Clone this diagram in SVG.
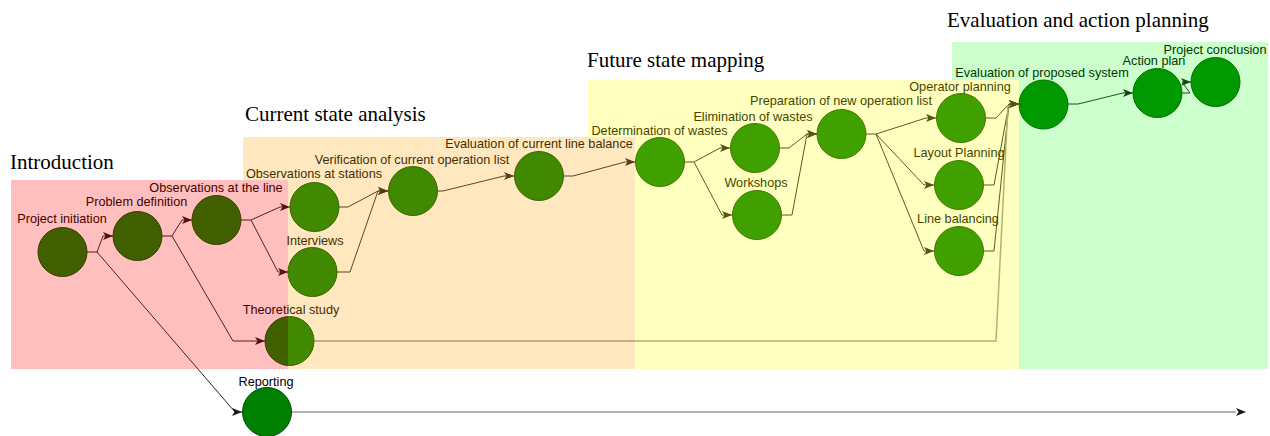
<svg xmlns="http://www.w3.org/2000/svg" width="1270" height="436" viewBox="0 0 1270 436">
<style>
.n{fill:#008000;stroke:#004d00;stroke-width:1}
.l{font-family:"Liberation Sans",Arial,sans-serif;font-size:12.7px;fill:#000;text-anchor:middle}
.t{font-family:"Liberation Serif","Times New Roman",serif;font-size:21px;fill:#000}
.c{fill:none;stroke:#262626;stroke-width:1;marker-end:url(#ah)}
.g{fill:none;stroke:#999;stroke-width:1.5}
</style>
<defs>
<marker id="ah" markerUnits="userSpaceOnUse" markerWidth="11" markerHeight="9" refX="10" refY="4" orient="auto" viewBox="0 0 11 9">
<path d="M0,0 L10,4 L0,8 L2.5,4 z" fill="#1a1a1a"/>
</marker>
</defs>
<rect width="1270" height="436" fill="#fff"/>
<g id="connectors">
<path class="c" d="M87,252 H97 L103,236 H113"/>
<path class="c" d="M97,252 L235,412 H242"/>
<path class="c" d="M162,236 H172 L182,220 H192"/>
<path class="c" d="M172,236 L233,341 H265"/>
<path class="c" d="M241,220 H251 L280,207 H290"/>
<path class="c" d="M251,220 L278,272 H288"/>
<path class="c" d="M339,207 H348 L378,191 H388"/>
<path class="c" d="M337,272 H350 L378,191 H388"/>
<path class="c" d="M438,191 H443 L504,176 H514"/>
<path class="c" d="M563,176 H573 L625,162 H635"/>
<path class="c" d="M684,162 H694 L720,148 H730"/>
<path class="c" d="M694,162 L722,215 H732"/>
<path class="c" d="M779,148 H789 L807,134 H817"/>
<path class="c" d="M782,215 H792 L807,134 H817"/>
<path class="c" d="M866,134 H876 L926,118 H936"/>
<path class="c" d="M876,134 L924,185 H934"/>
<path class="c" d="M876,134 L924,251 H934"/>
<path class="c" d="M986,118 H996 L1009,104 H1019"/>
<path class="c" d="M984,185 H994 L1009,104 H1019"/>
<path class="c" d="M984,251 H994 L1009,104 H1019"/>
<path class="g" d="M314,341 H996 L1008,105"/>
<path class="c" d="M1068,104 H1078 L1123,93 H1133"/>
<path class="c" d="M1182,93 H1190 L1182,82 H1191"/>
<path class="g" d="M292,412 H1236"/>
<path d="M1236,408 L1246,412 L1236,416 L1238.5,412 z" fill="#1a1a1a"/>
</g>
<g id="n-project-initiation"><circle class="n" cx="62.5" cy="252" r="24.5"/><text class="l" x="62" y="223">Project initiation</text></g>
<g id="n-problem-definition"><circle class="n" cx="137.5" cy="236" r="24.5"/><text class="l" x="136.5" y="206">Problem definition</text></g>
<g id="n-observations-line"><circle class="n" cx="216.5" cy="220" r="24.5"/><text class="l" x="216" y="192">Observations at the line</text></g>
<g id="n-observations-stations"><circle class="n" cx="314.5" cy="207" r="24.5"/><text class="l" x="314" y="178">Observations at stations</text></g>
<g id="n-interviews"><circle class="n" cx="312.5" cy="272" r="24.5"/><text class="l" x="315" y="245">Interviews</text></g>
<g id="n-theoretical-study"><circle class="n" cx="289.5" cy="341" r="24.5"/><text class="l" x="291" y="314">Theoretical study</text></g>
<g id="n-reporting"><circle class="n" cx="267" cy="412" r="24.5"/><text class="l" x="266" y="386">Reporting</text></g>
<g id="n-verification"><circle class="n" cx="413" cy="191" r="24.5"/><text class="l" x="412" y="164">Verification of current operation list</text></g>
<g id="n-eval-current"><circle class="n" cx="539" cy="176" r="24.5"/><text class="l" x="539" y="148">Evaluation of current line balance</text></g>
<g id="n-determination"><circle class="n" cx="660" cy="162" r="24.5"/><text class="l" x="659.5" y="135">Determination of wastes</text></g>
<g id="n-elimination"><circle class="n" cx="755" cy="148" r="24.5"/><text class="l" x="753" y="121">Elimination of wastes</text></g>
<g id="n-workshops"><circle class="n" cx="757" cy="215" r="24.5"/><text class="l" x="756" y="187">Workshops</text></g>
<g id="n-preparation"><circle class="n" cx="841.5" cy="134" r="24.5"/><text class="l" x="841" y="105">Preparation of new operation list</text></g>
<g id="n-operator"><circle class="n" cx="961" cy="118" r="24.5"/><text class="l" x="960" y="91">Operator planning</text></g>
<g id="n-layout"><circle class="n" cx="959" cy="185" r="24.5"/><text class="l" x="959" y="157">Layout Planning</text></g>
<g id="n-line-balancing"><circle class="n" cx="959" cy="251" r="24.5"/><text class="l" x="958" y="223">Line balancing</text></g>
<g id="n-eval-proposed"><circle class="n" cx="1043.5" cy="104.5" r="24.5"/><text class="l" x="1042" y="77">Evaluation of proposed system</text></g>
<g id="n-action-plan"><circle class="n" cx="1157.5" cy="93" r="24.5"/><text class="l" x="1154" y="65">Action plan</text></g>
<g id="n-project-conclusion"><circle class="n" cx="1215.5" cy="82" r="24.5"/><text class="l" x="1215" y="54">Project conclusion</text></g>
<g id="regions">
<rect x="11" y="180" width="277" height="189" fill="#ff0000" fill-opacity="0.25"/>
<path d="M243,137 H635 V369 H288 V180 H243 Z" fill="#ffa500" fill-opacity="0.25"/>
<path d="M588,80 H1019 V369 H635 V137 H588 Z" fill="#ffff00" fill-opacity="0.25"/>
<path d="M952,42 H1268 V369 H1019 V80 H952 Z" fill="#00ff00" fill-opacity="0.2"/>
</g>
<g id="titles">
<text class="t" x="10" y="169">Introduction</text>
<text class="t" x="245" y="121">Current state analysis</text>
<text class="t" x="587" y="67">Future state mapping</text>
<text class="t" x="947" y="27">Evaluation and action planning</text>
</g>
</svg>
